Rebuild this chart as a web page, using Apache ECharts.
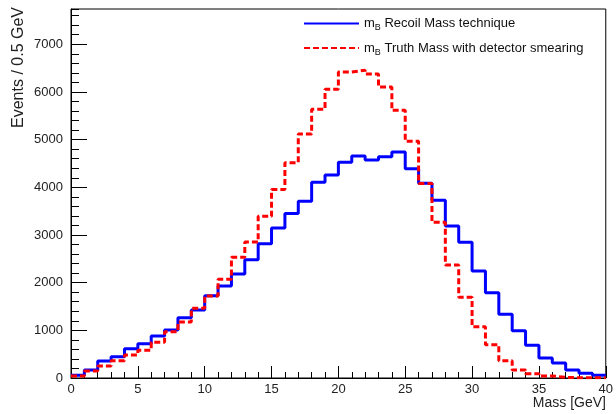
<!DOCTYPE html>
<html>
<head>
<meta charset="utf-8">
<script src="https://cdn.jsdelivr.net/npm/echarts@6/dist/echarts.min.js"></script>
<style>html,body{margin:0;padding:0;background:#fff}#c{width:616px;height:414px}</style>
</head>
<body>
<div id="c"></div>
<script>
// Lower edges of the 1 GeV mass bins (GeV)
var binLowEdges = [0,1,2,3,4,5,6,7,8,9,10,11,12,13,14,15,16,17,18,19,20,21,22,23,24,25,26,27,28,29,30,31,32,33,34,35,36,37,38,39];
var binUpperEnd = 40;
// m_B Recoil Mass technique (events per bin)
var recoilMass = [60,168,357,448,615,720,881,1007,1266,1426,1727,1930,2182,2482,2818,3145,3450,3710,4108,4258,4524,4657,4573,4643,4741,4391,4084,3730,3189,2846,2245,1790,1335,993,685,420,315,168,98,56];
// m_B Truth Mass with detector smearing (events per bin)
var truthMass = [40,147,252,364,482,580,748,972,1175,1462,1722,2070,2532,2853,3392,3955,4517,5118,5636,6056,6420,6455,6374,6105,5615,4965,4078,3266,2370,1692,1077,699,364,168,91,42,14,6,5,3];
var seriesNames = ['m_B Recoil Mass technique', 'm_B Truth Mass with detector smearing'];
var yTicks = [0,1000,2000,3000,4000,5000,6000,7000];
var xTicks = [0,5,10,15,20,25,30,35,40];

function stepData(vals) {
  var d = binLowEdges.map(function (x, i) { return [x, vals[i]]; });
  d.push([binUpperEnd, vals[vals.length - 1]]);
  return d;
}

var chart = echarts.init(document.getElementById('c'), null, {renderer: 'canvas'});
var font = 'Liberation Sans, Arial, sans-serif';
var labelColor = '#222';
var yMax = 7740;

chart.setOption({
  animation: false,
  backgroundColor: '#fff',
  grid: {left: 71, right: 6, top: 9, bottom: 36, show: true, borderColor: '#000', borderWidth: 1, backgroundColor: 'transparent'},
  xAxis: [{
    type: 'value', min: 0, max: 40, interval: 5,
    axisLine: {show: true, lineStyle: {color: '#000', width: 1}},
    axisTick: {show: true, inside: true, length: 12, lineStyle: {color: '#000'}},
    axisLabel: {show: true, color: labelColor, fontFamily: font, fontSize: 13, margin: 5,
      formatter: function (v) { return xTicks.indexOf(v) >= 0 ? String(v) : ''; }},
    splitLine: {show: false}
  }, {
    type: 'value', min: 0, max: 40, interval: 1, position: 'bottom', gridIndex: 0,
    axisLine: {show: false},
    axisTick: {show: true, inside: true, length: 6, lineStyle: {color: '#000'}},
    axisLabel: {show: false}, splitLine: {show: false}
  }],
  yAxis: [{
    type: 'value', min: 0, max: yMax, interval: 1000,
    axisLine: {show: true, lineStyle: {color: '#000', width: 1}},
    axisTick: {show: true, inside: true, length: 16, lineStyle: {color: '#000'}},
    axisLabel: {show: true, color: labelColor, fontFamily: font, fontSize: 13, margin: 8, showMaxLabel: false,
      formatter: function (v) { return yTicks.indexOf(v) >= 0 ? String(v) : ''; }},
    splitLine: {show: false}
  }, {
    type: 'value', min: 0, max: yMax, interval: 200, position: 'left',
    axisLine: {show: false},
    axisTick: {show: true, inside: true, length: 8, lineStyle: {color: '#000'}},
    axisLabel: {show: false}, splitLine: {show: false}
  }],
  legend: {
    orient: 'vertical', left: 298, top: 12,
    itemWidth: 55, itemHeight: 14, itemGap: 9,
    selectedMode: false,
    itemStyle: {opacity: 0},
    data: seriesNames,
    formatter: function (name) {
      var rest = name.replace('m_B ', '');
      return '{m|m}{b|B}{t| ' + rest + '}';
    },
    textStyle: {
      fontFamily: font, fontSize: 13, color: '#111', padding: [0, 0, 0, 0],
      rich: {
        m: {fontFamily: font, fontSize: 13, color: '#111', lineHeight: 18, verticalAlign: 'middle'},
        b: {fontFamily: font, fontSize: 9, color: '#111', lineHeight: 18, verticalAlign: 'bottom', padding: [0, 0, 0, 0]},
        t: {fontFamily: font, fontSize: 13, color: '#111', lineHeight: 18, verticalAlign: 'middle'}
      }
    }
  },
  series: [{
    name: seriesNames[0], type: 'line', step: 'end', xAxisIndex: 0, yAxisIndex: 0,
    symbol: 'none', data: stepData(recoilMass),
    lineStyle: {color: '#0000ff', width: 3},
    itemStyle: {color: '#0000ff'}
  }, {
    name: seriesNames[1], type: 'line', step: 'end', xAxisIndex: 0, yAxisIndex: 0,
    symbol: 'none', data: stepData(truthMass),
    lineStyle: {color: '#ff0000', width: 3, type: [6, 3]},
    itemStyle: {color: '#ff0000'}
  }],
  graphic: [{
    type: 'text', x: 19, y: 7, rotation: Math.PI / 2,
    style: {text: 'Events / 0.5 GeV', fontFamily: font, fontSize: 16, fill: labelColor, align: 'right', verticalAlign: 'middle'}
  }, {
    type: 'text', x: 606, y: 403,
    style: {text: 'Mass [GeV]', fontFamily: font, fontSize: 14, fill: labelColor, align: 'right', verticalAlign: 'middle'}
  }]
});
</script>
</body>
</html>
